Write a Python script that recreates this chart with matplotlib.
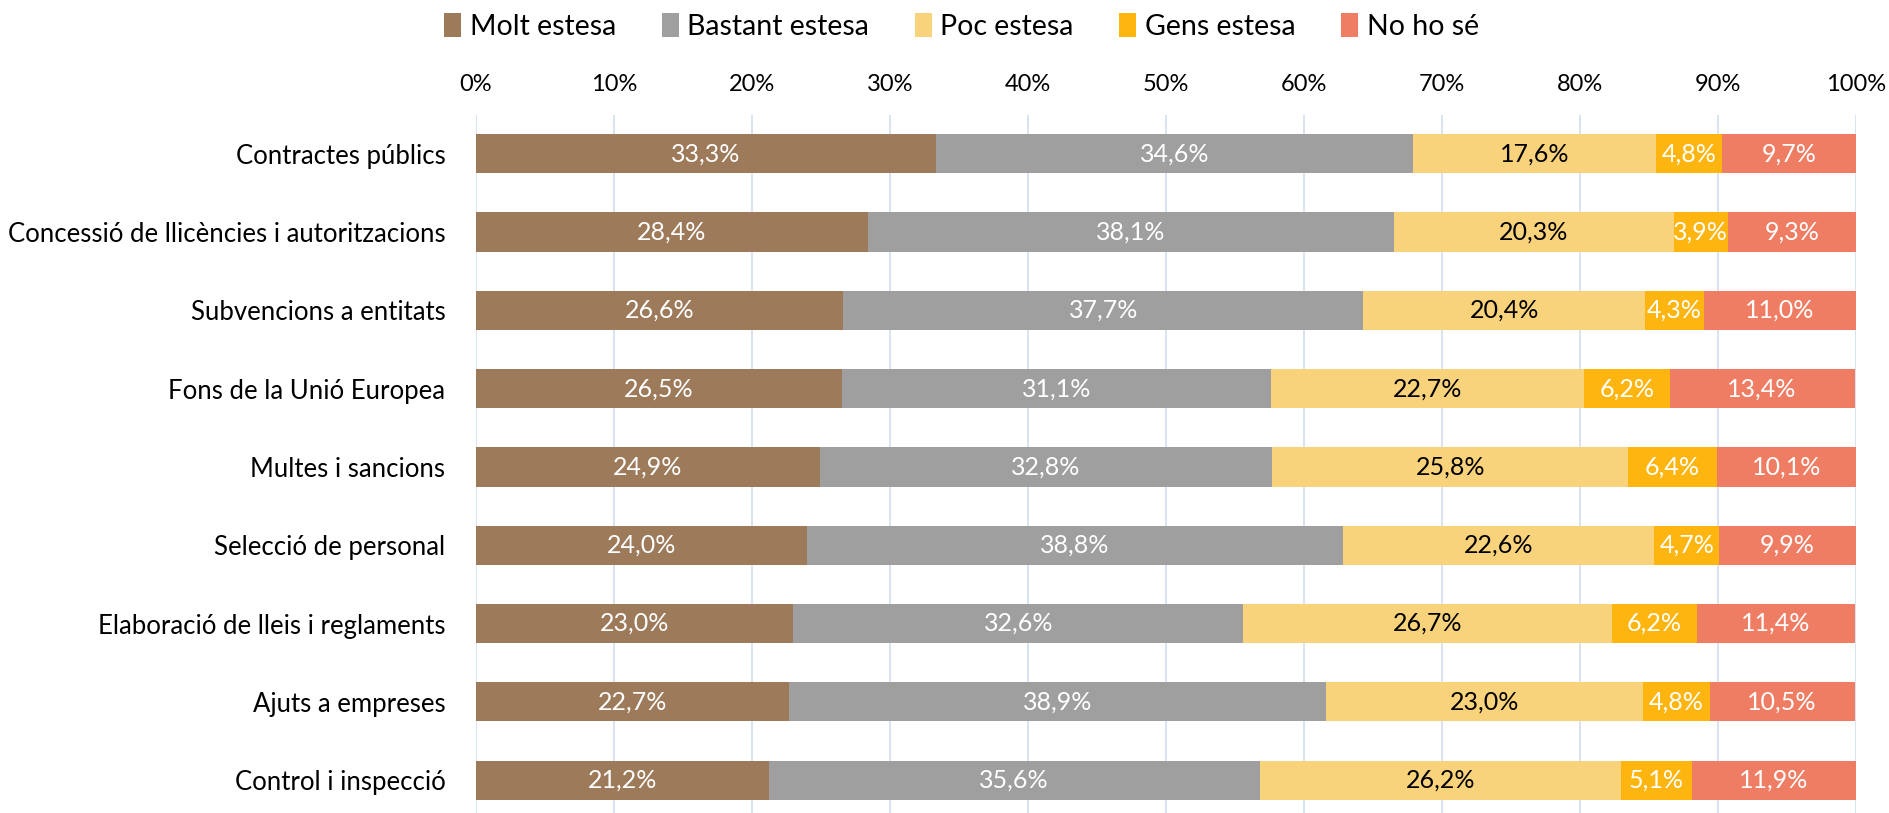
import numpy as np
import matplotlib
matplotlib.use("Agg")
import matplotlib.pyplot as plt
from matplotlib.ticker import PercentFormatter

plt.rcParams["font.family"] = ["Lato", "DejaVu Sans"]

categories = [
    "Contractes públics",
    "Concessió de llicències i autoritzacions",
    "Subvencions a entitats",
    "Fons de la Unió Europea",
    "Multes i sancions",
    "Selecció de personal",
    "Elaboració de lleis i reglaments",
    "Ajuts a empreses",
    "Control i inspecció",
]
series_names = ["Molt estesa", "Bastant estesa", "Poc estesa", "Gens estesa", "No ho sé"]
molt = [33.3, 28.4, 26.6, 26.5, 24.9, 24.0, 23.0, 22.7, 21.2]
bastant = [34.6, 38.1, 37.7, 31.1, 32.8, 38.8, 32.6, 38.9, 35.6]
poc = [17.6, 20.3, 20.4, 22.7, 25.8, 22.6, 26.7, 23.0, 26.2]
gens = [4.8, 3.9, 4.3, 6.2, 6.4, 4.7, 6.2, 4.8, 5.1]
no_ho_se = [9.7, 9.3, 11.0, 13.4, 10.1, 9.9, 11.4, 10.5, 11.9]
colors = ["#9C7A5A", "#9F9F9F", "#F9D27C", "#FFB50F", "#EE7D64"]
label_colors = ["white", "white", "black", "white", "white"]

series = [molt, bastant, poc, gens, no_ho_se]

fig = plt.figure(figsize=(18.89, 8.13), dpi=100)
ax = fig.add_axes([0.252, 0.0, 0.7305, 0.859])

y = np.arange(len(categories))
left = np.zeros(len(categories))
for vals, name, col, lcol in zip(series, series_names, colors, label_colors):
    vals = np.array(vals)
    bars = ax.barh(y, vals, left=left, height=0.5, color=col, label=name, zorder=3)
    for b, v in zip(bars, vals):
        ax.text(b.get_x() + b.get_width() / 2, b.get_y() + b.get_height() / 2,
                f"{v:.1f}%".replace(".", ","), ha="center", va="center",
                color=lcol, fontsize=18, zorder=4)
    left += vals

ax.set_xlim(0, 100)
ax.set_ylim(8.42, -0.5)
ax.set_yticks(y)
ax.set_yticklabels(categories, fontsize=18.5)
ax.xaxis.tick_top()
ax.set_xticks(np.arange(0, 101, 10))
ax.xaxis.set_major_formatter(PercentFormatter(decimals=0))
ax.tick_params(axis="x", labelsize=17, length=0, pad=14)
ax.tick_params(axis="y", length=0, pad=22)
ax.grid(axis="x", color="#D6E0F0", linewidth=1.3, zorder=0)
for s in ax.spines.values():
    s.set_visible(False)

fig.legend(loc="upper center", bbox_to_anchor=(0.509, 1.015), ncol=5, frameon=False,
           fontsize=20.5, handlelength=0.6, handleheight=0.9, handletextpad=0.3,
           columnspacing=1.6)

fig.savefig("out.png", dpi=100)
